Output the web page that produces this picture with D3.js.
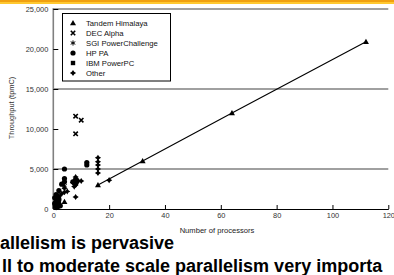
<!DOCTYPE html>
<html><head><meta charset="utf-8">
<script src="https://cdn.jsdelivr.net/npm/d3@7"></script>
<style>
html,body{margin:0;padding:0;background:#fff;overflow:hidden;}
svg{display:block;font-family:"Liberation Sans",Arial,sans-serif;}
</style></head>
<body>
<svg id="c" width="394" height="275"></svg>
<script>
// ---- data ----
const seriesNames = ["Tandem Himalaya","DEC Alpha","SGI PowerChallenge","HP PA","IBM PowerPC","Other"];
const tandemX = [1, 4, 16, 32, 64, 112];
const tandemY = [400, 900, 3000, 6000, 12000, 20900];
const trendX = [16, 32, 64, 112];
const trendY = [3000, 6000, 12000, 20900];
const decX = [8, 10, 8];
const decY = [11600, 11100, 9400];
const sgiX = [2, 4];
const sgiY = [1700, 2900];
const hpX = [4, 12, 12, 2, 4, 4, 3, 7, 8, 8, 1, 1, 1, 1, 2, 2, 0.5, 1.5, 0.5, 1.5, 2.5];
const hpY = [5000, 5500, 5800, 2300, 3800, 3400, 3100, 3400, 3200, 3700, 300, 900, 1500, 1800, 600, 1200, 700, 1000, 1400, 1600, 400];
const ibmX = [1, 1, 2, 2, 0.5, 1.5];
const ibmY = [600, 1200, 900, 1500, 300, 200];
const otherX = [16, 16, 16, 16, 16, 20, 8, 8, 9, 10, 8, 7, 4, 4, 5, 3, 2, 1, 7.5];
const otherY = [6400, 5900, 5500, 5000, 4500, 3600, 4000, 3000, 3500, 3500, 1500, 3300, 2600, 2100, 2200, 1900, 400, 200, 2800];
const xTicks = [0, 20, 40, 60, 80, 100, 120];
const yTicks = [0, 5000, 10000, 15000, 20000, 25000];
const yBands = [5000, 15000, 25000];
const xTitle = "Number of processors";
const yTitle = "Throughput (tpmC)";
const textLine1 = "allelism is pervasive";
const textLine2 = "ll to moderate scale parallelism very importa";

// ---- drawing ----
const svg = d3.select("#c");
svg.append("rect").attr("x",0).attr("y",0).attr("width",394).attr("height",2).attr("fill","#F0A010");
svg.append("rect").attr("x",0).attr("y",2).attr("width",394).attr("height",2).attr("fill","#FFC830");

const x = d3.scaleLinear().domain([0,120]).range([53.3,388.3]);
const y = d3.scaleLinear().domain([0,25000]).range([209,9]);

svg.selectAll("line.band").data(yBands).join("line")
  .attr("x1",x(0)).attr("x2",x(120)).attr("y1",d=>y(d)).attr("y2",d=>y(d))
  .attr("stroke","#808080").attr("stroke-width",1.6);
svg.append("line").attr("x1",x(0)).attr("x2",x(0)).attr("y1",y(25000)-0.8).attr("y2",y(0))
  .attr("stroke","#808080").attr("stroke-width",1.6);

const fmt = d3.format(",");
const gy = svg.append("g").attr("transform",`translate(${x(0)},0)`)
  .call(d3.axisLeft(y).tickValues(yTicks).tickFormat(fmt).tickSizeInner(-5).tickSizeOuter(0).tickPadding(5));
gy.select(".domain").remove();
gy.selectAll(".tick line").attr("stroke","#000");
gy.selectAll("text").attr("font-size",7.4).attr("fill","#333").attr("font-family","Liberation Sans, Arial, sans-serif");

const gx = svg.append("g").attr("transform",`translate(0,${y(0)})`)
  .call(d3.axisBottom(x).tickValues(xTicks).tickSizeInner(-4).tickSizeOuter(0).tickPadding(4));
gx.select(".domain").attr("stroke","#000");
gx.selectAll(".tick line").attr("stroke","#000");
gx.selectAll("text").attr("font-size",7.4).attr("fill","#333").attr("font-family","Liberation Sans, Arial, sans-serif");

svg.append("text").attr("x",217).attr("y",233).attr("text-anchor","middle")
  .attr("font-size",7.6).attr("fill","#222").text(xTitle);
svg.append("text").attr("transform","translate(14,108) rotate(-90)").attr("text-anchor","middle")
  .attr("font-size",7.4).attr("fill","#333").text(yTitle);

const sym = {
  tri: () => "M0,-3L3,2.2L-3,2.2Z",
  x: () => "M-2.2,-2.2L2.2,2.2M2.2,-2.2L-2.2,2.2",
  ast: () => "M0,-2.6V2.6M-2.3,-1.3L2.3,1.3M-2.3,1.3L2.3,-1.3",
  circ: () => "M2.6,0A2.6,2.6 0 1,1 -2.6,0A2.6,2.6 0 1,1 2.6,0Z",
  sq: () => "M-2.2,-2.2H2.2V2.2H-2.2Z",
  dia: () => "M0,-3.1L1.2,-1.2L3.1,0L1.2,1.2L0,3.1L-1.2,1.2L-3.1,0L-1.2,-1.2Z"
};
function drawPts(xs, ys, key, stroke){
  const pts = xs.map((v,i)=>[v,ys[i]]);
  const sel = svg.append("g").selectAll("path").data(pts).join("path")
    .attr("transform",d=>`translate(${x(d[0])},${y(d[1])})`)
    .attr("d",sym[key]());
  if(stroke) sel.attr("fill","none").attr("stroke","#000").attr("stroke-width",stroke);
  else sel.attr("fill","#000");
}
svg.append("path").datum(trendX.map((v,i)=>[v,trendY[i]]))
  .attr("d",d3.line().x(d=>x(d[0])).y(d=>y(d[1])))
  .attr("fill","none").attr("stroke","#000").attr("stroke-width",1.1);

drawPts(hpX,hpY,"circ");
drawPts(ibmX,ibmY,"sq");
drawPts(otherX,otherY,"dia");
drawPts(sgiX,sgiY,"ast",1);
drawPts(decX,decY,"x",1.6);
drawPts(tandemX,tandemY,"tri");

const lg = svg.append("g");
lg.append("rect").attr("x",62.5).attr("y",13.5).attr("width",108).attr("height",67.5)
  .attr("fill","#fff").attr("stroke","#000").attr("stroke-width",1);
const legKeys = ["tri","x","ast","circ","sq","dia"];
seriesNames.forEach((n,i)=>{
  const yy = 23 + i*10;
  const k = legKeys[i];
  const p = lg.append("path").attr("transform",`translate(73,${yy})`).attr("d",sym[k]());
  if(k==="x") p.attr("fill","none").attr("stroke","#000").attr("stroke-width",1.6);
  else if(k==="ast") p.attr("fill","none").attr("stroke","#000").attr("stroke-width",1);
  else p.attr("fill","#000");
  lg.append("text").attr("x",86).attr("y",yy+2.8).attr("font-size",7.7).attr("fill","#111").text(n);
});

svg.append("text").attr("x",0).attr("y",249).attr("font-size",18).attr("font-weight","bold").attr("fill","#000").text(textLine1);
svg.append("text").attr("x",2).attr("y",271.5).attr("font-size",18).attr("font-weight","bold").attr("fill","#000").text(textLine2);
</script>
</body></html>
